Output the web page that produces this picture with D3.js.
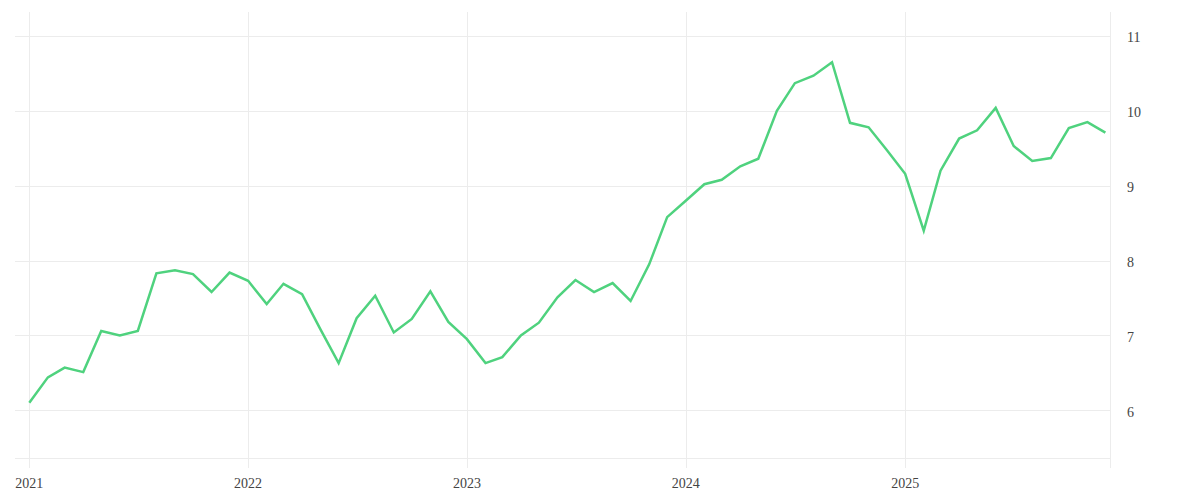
<!DOCTYPE html>
<html>
<head>
<meta charset="utf-8">
<script src="https://cdn.jsdelivr.net/npm/d3@7"></script>
<style>
  html, body { margin: 0; padding: 0; background: #fff; }
  svg { display: block; }
  .tick-label { font-family: "Liberation Serif", serif; font-size: 14px; fill: #444; }
</style>
</head>
<body>
<div id="chart"></div>
<script>
// Monthly values, Jan 2021 .. Dec 2025
const months = d3.timeMonths(new Date(2021, 0, 1), new Date(2026, 0, 1));
const values = [
    6.10, 6.44, 6.57, 6.51, 7.06, 7.00, 7.06, 7.83, 7.87, 7.82, 7.58, 7.84, // 2021
    7.73, 7.42, 7.69, 7.55, 7.09, 6.63, 7.23, 7.53, 7.04, 7.22, 7.59, 7.18, // 2022
    6.95, 6.63, 6.71, 7.00, 7.17, 7.51, 7.74, 7.58, 7.70, 7.46, 7.95, 8.58, // 2023
    8.80, 9.02, 9.08, 9.26, 9.36, 10.00, 10.37, 10.47, 10.65, 9.84, 9.78, 9.48, // 2024
    9.16, 8.40, 9.20, 9.63, 9.74, 10.04, 9.53, 9.33, 9.37, 9.77, 9.85, 9.71  // 2025
];
const yTicks = [6, 7, 8, 9, 10, 11];
const xTicks = [2021, 2022, 2023, 2024, 2025].map(y => new Date(y, 0, 1));

const data = months.map((d, i) => ({ date: d, value: values[i] }));

const width = 1200;
const height = 500;
const plot = { left: 15, right: 1110, top: 12, bottom: 458, tickEnd: 468 };

const svg = d3.select('#chart')
    .append('svg')
    .attr('width', width)
    .attr('height', height);

const x = d3.scaleTime()
    .domain([months[0], months[months.length - 1]])
    .range([29.3, 1105.4]);

const y = d3.scaleLinear()
    .domain([6, 11])
    .range([410.3, 36]);

const grid = svg.append('g')
    .attr('stroke', '#ececec')
    .attr('stroke-width', 1)
    .attr('shape-rendering', 'crispEdges');

// horizontal grid
grid.selectAll('line.h')
    .data(yTicks)
    .enter()
    .append('line')
    .attr('class', 'h')
    .attr('x1', plot.left)
    .attr('x2', plot.right)
    .attr('y1', d => Math.round(y(d)) + 0.5)
    .attr('y2', d => Math.round(y(d)) + 0.5);

// bottom border
grid.append('line')
    .attr('x1', plot.left)
    .attr('x2', plot.right)
    .attr('y1', plot.bottom + 0.5)
    .attr('y2', plot.bottom + 0.5);

// vertical grid (years)
grid.selectAll('line.v')
    .data(xTicks)
    .enter()
    .append('line')
    .attr('class', 'v')
    .attr('x1', d => Math.round(x(d)) + 0.5)
    .attr('x2', d => Math.round(x(d)) + 0.5)
    .attr('y1', plot.top)
    .attr('y2', plot.tickEnd);

// right axis line
grid.append('line')
    .attr('x1', plot.right + 0.5)
    .attr('x2', plot.right + 0.5)
    .attr('y1', plot.top)
    .attr('y2', plot.tickEnd);

// line
const line = d3.line()
    .x(d => x(d.date))
    .y(d => y(d.value));

svg.append('path')
    .datum(data)
    .attr('fill', 'none')
    .attr('stroke', '#4fd27e')
    .attr('stroke-width', 2.5)
    .attr('stroke-linejoin', 'miter')
    .attr('d', line);

// x labels
svg.append('g')
    .selectAll('text')
    .data(xTicks)
    .enter()
    .append('text')
    .attr('class', 'tick-label')
    .attr('x', d => x(d))
    .attr('y', 488)
    .attr('text-anchor', 'middle')
    .text(d => d3.timeFormat('%Y')(d));

// y labels
svg.append('g')
    .selectAll('text')
    .data(yTicks)
    .enter()
    .append('text')
    .attr('class', 'tick-label')
    .attr('x', 1127)
    .attr('y', d => y(d))
    .attr('dy', '0.45em')
    .attr('text-anchor', 'start')
    .text(d => d);
</script>
</body>
</html>
